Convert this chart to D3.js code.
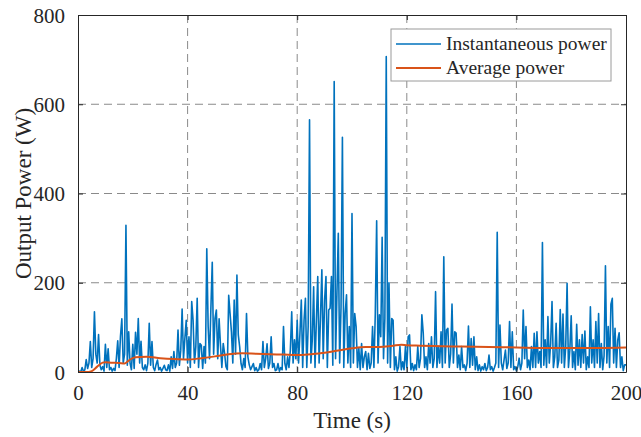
<!DOCTYPE html>
<html>
<head>
<meta charset="utf-8">
<script src="https://cdn.jsdelivr.net/npm/d3@7"></script>
<style>
  body { margin: 0; background: #fff; }
  svg text { font-family: "Liberation Serif", "Times New Roman", serif; fill: #262626; }
</style>
</head>
<body>
<div id="chart"></div>
<script>
// sample step of the instantaneous trace (s)
const step = 0.5;

// instantaneous power (W), one value every 0.5 s from t = 0 to t = 200
const instPower = [
  0, 2, 0, 10, 1, 5, 28, 8, 20, 68, 10, 30, 135, 40, 20, 84, 15, 5, 12, 2,
  62, 10, 52, 5, 10, 2, 8, 3, 30, 70, 10, 80, 119, 20, 40, 329, 15, 90, 20, 5,
  62, 8, 89, 40, 120, 20, 69, 10, 5, 16, 3, 20, 109, 15, 68, 10, 3, 17, 27, 5,
  10, 2, 8, 15, 5, 3, 16, 2, 34, 8, 46, 10, 20, 94, 15, 49, 141, 30, 75, 116,
  20, 79, 10, 158, 116, 20, 57, 165, 10, 64, 60, 8, 57, 20, 276, 102, 30, 143, 246, 40,
  120, 139, 30, 119, 60, 10, 64, 42, 12, 5, 172, 131, 90, 20, 161, 40, 217, 83, 57, 19,
  5, 30, 10, 131, 34, 16, 5, 12, 19, 3, 10, 2, 5, 19, 5, 68, 10, 30, 63, 8,
  20, 79, 10, 19, 3, 5, 19, 2, 10, 5, 102, 19, 5, 34, 10, 50, 135, 20, 72, 30,
  116, 20, 87, 161, 10, 116, 165, 10, 102, 565, 20, 72, 191, 10, 116, 214, 20, 124, 229, 30,
  161, 214, 10, 139, 143, 214, 15, 651, 30, 176, 311, 20, 146, 526, 10, 131, 173, 20, 102, 10,
  355, 20, 131, 102, 10, 53, 5, 64, 10, 34, 46, 5, 42, 8, 20, 102, 10, 131, 339, 20,
  128, 79, 302, 30, 120, 707, 20, 200, 10, 120, 116, 5, 34, 2, 12, 57, 5, 23, 5, 57,
  10, 79, 83, 5, 19, 3, 16, 5, 57, 10, 30, 128, 87, 10, 34, 5, 64, 20, 79, 10,
  30, 180, 10, 57, 20, 90, 10, 258, 20, 94, 98, 10, 40, 152, 20, 90, 87, 10, 38, 5,
  57, 10, 16, 3, 20, 103, 10, 75, 15, 79, 5, 34, 3, 16, 2, 12, 5, 19, 3, 10,
  38, 5, 12, 2, 10, 20, 313, 10, 105, 20, 5, 27, 49, 8, 20, 113, 10, 90, 5, 12,
  3, 12, 31, 5, 20, 139, 30, 102, 10, 27, 5, 57, 10, 87, 10, 90, 20, 46, 10, 290,
  15, 72, 10, 124, 20, 64, 158, 10, 34, 109, 10, 27, 140, 20, 130, 10, 57, 199, 10, 49,
  126, 10, 46, 5, 107, 15, 72, 10, 84, 20, 92, 5, 34, 10, 146, 20, 72, 10, 113, 20,
  131, 10, 64, 5, 36, 238, 20, 102, 10, 152, 165, 20, 98, 10, 72, 88, 10, 34, 3, 16,
  16
];

// running average power (W)
const avgTime  = [0, 3, 5, 7, 9, 10, 12, 15, 17, 19, 21, 25, 30, 35, 40, 45, 50, 55, 60, 65, 70,
                  75, 80, 85, 90, 95, 100, 105, 110, 115, 118, 120, 125, 130, 140, 150, 160, 170, 180, 190, 200];
const avgPower = [0, 0, 2, 12, 21, 22, 21, 20, 19, 28, 33, 34, 31, 29, 28, 31, 35, 40, 42, 41, 40,
                  39, 38, 40, 43, 48, 53, 56, 56, 59, 61, 60, 59, 58, 57, 56, 55, 54, 54, 54, 55];

const xTicks = [0, 40, 80, 120, 160, 200];
const yTicks = [0, 200, 400, 600, 800];
const seriesNames = ["Instantaneous power", "Average power"];
const seriesColors = ["#0072BD", "#D95319"];

const W = 641, H = 437;
const margin = { top: 15, right: 15, bottom: 65, left: 78 };
const width = W - margin.left - margin.right;
const height = H - margin.top - margin.bottom;

const svg = d3.select("#chart").append("svg")
  .attr("width", W)
  .attr("height", H);

const g = svg.append("g")
  .attr("transform", "translate(" + margin.left + "," + margin.top + ")");

const x = d3.scaleLinear().domain([0, 200]).range([0, width]);
const y = d3.scaleLinear().domain([0, 800]).range([height, 0]);

// dashed grid
g.append("g").selectAll("line")
  .data(xTicks.slice(1, -1))
  .enter().append("line")
  .attr("x1", d => x(d)).attr("x2", d => x(d))
  .attr("y1", 0).attr("y2", height)
  .attr("stroke", "#8a8a8a").attr("stroke-width", 1)
  .attr("stroke-dasharray", "8,5");

g.append("g").selectAll("line")
  .data(yTicks.slice(1, -1))
  .enter().append("line")
  .attr("x1", 0).attr("x2", width)
  .attr("y1", d => y(d)).attr("y2", d => y(d))
  .attr("stroke", "#8a8a8a").attr("stroke-width", 1)
  .attr("stroke-dasharray", "8,5");

g.append("clipPath").attr("id", "clip")
  .append("rect").attr("width", width).attr("height", height);

const instData = instPower.map((v, i) => ({ t: i * step, p: v }));
const avgData = avgTime.map((t, i) => ({ t: t, p: avgPower[i] }));

const line = d3.line()
  .x(d => x(d.t))
  .y(d => y(d.p));

g.append("path")
  .datum(instData)
  .attr("clip-path", "url(#clip)")
  .attr("fill", "none")
  .attr("stroke", seriesColors[0])
  .attr("stroke-width", 1.6)
  .attr("stroke-linejoin", "round")
  .attr("d", line);

g.append("path")
  .datum(avgData)
  .attr("clip-path", "url(#clip)")
  .attr("fill", "none")
  .attr("stroke", seriesColors[1])
  .attr("stroke-width", 2)
  .attr("d", line.curve(d3.curveMonotoneX));

// axes, ticks pointing inward on all four sides
const axisColor = "#262626";
const fontTick = "21px";

const xAxis = g.append("g")
  .attr("transform", "translate(0," + height + ")")
  .call(d3.axisBottom(x).tickValues(xTicks).tickSizeInner(-5).tickSizeOuter(0).tickPadding(13));
const yAxis = g.append("g")
  .call(d3.axisLeft(y).tickValues(yTicks).tickSizeInner(-5).tickSizeOuter(0).tickPadding(13));
const xTop = g.append("g")
  .call(d3.axisTop(x).tickValues(xTicks).tickSizeInner(-5).tickSizeOuter(0).tickFormat(""));
const yRight = g.append("g")
  .attr("transform", "translate(" + width + ",0)")
  .call(d3.axisRight(y).tickValues(yTicks).tickSizeInner(-5).tickSizeOuter(0).tickFormat(""));

[xAxis, yAxis, xTop, yRight].forEach(a => {
  a.select(".domain").attr("stroke", axisColor).attr("stroke-width", 1);
  a.selectAll(".tick line").attr("stroke", axisColor);
  a.selectAll("text")
    .style("font-family", "'Liberation Serif', serif")
    .style("font-size", fontTick)
    .attr("fill", axisColor);
});
yAxis.selectAll("text").attr("dy", "0.34em");

// axis titles
svg.append("text")
  .attr("x", margin.left + width / 2)
  .attr("y", 428)
  .attr("text-anchor", "middle")
  .style("font-size", "23px")
  .text("Time (s)");

svg.append("text")
  .attr("transform", "translate(31," + (margin.top + height / 2) + ") rotate(-90)")
  .attr("text-anchor", "middle")
  .style("font-size", "23px")
  .text("Output Power (W)");

// legend
const legend = svg.append("g").attr("transform", "translate(391,29)");
legend.append("rect")
  .attr("width", 220).attr("height", 52)
  .attr("fill", "#fff")
  .attr("stroke", "#9a9a9a").attr("stroke-width", 1);

seriesNames.forEach((name, i) => {
  const row = legend.append("g").attr("transform", "translate(0," + (15 + i * 24) + ")");
  row.append("line")
    .attr("x1", 5).attr("x2", 50)
    .attr("stroke", seriesColors[i]).attr("stroke-width", i ? 2 : 1.6);
  row.append("text")
    .attr("x", 55).attr("dy", "0.33em")
    .style("font-size", "19.5px")
    .text(name);
});
</script>
</body>
</html>
